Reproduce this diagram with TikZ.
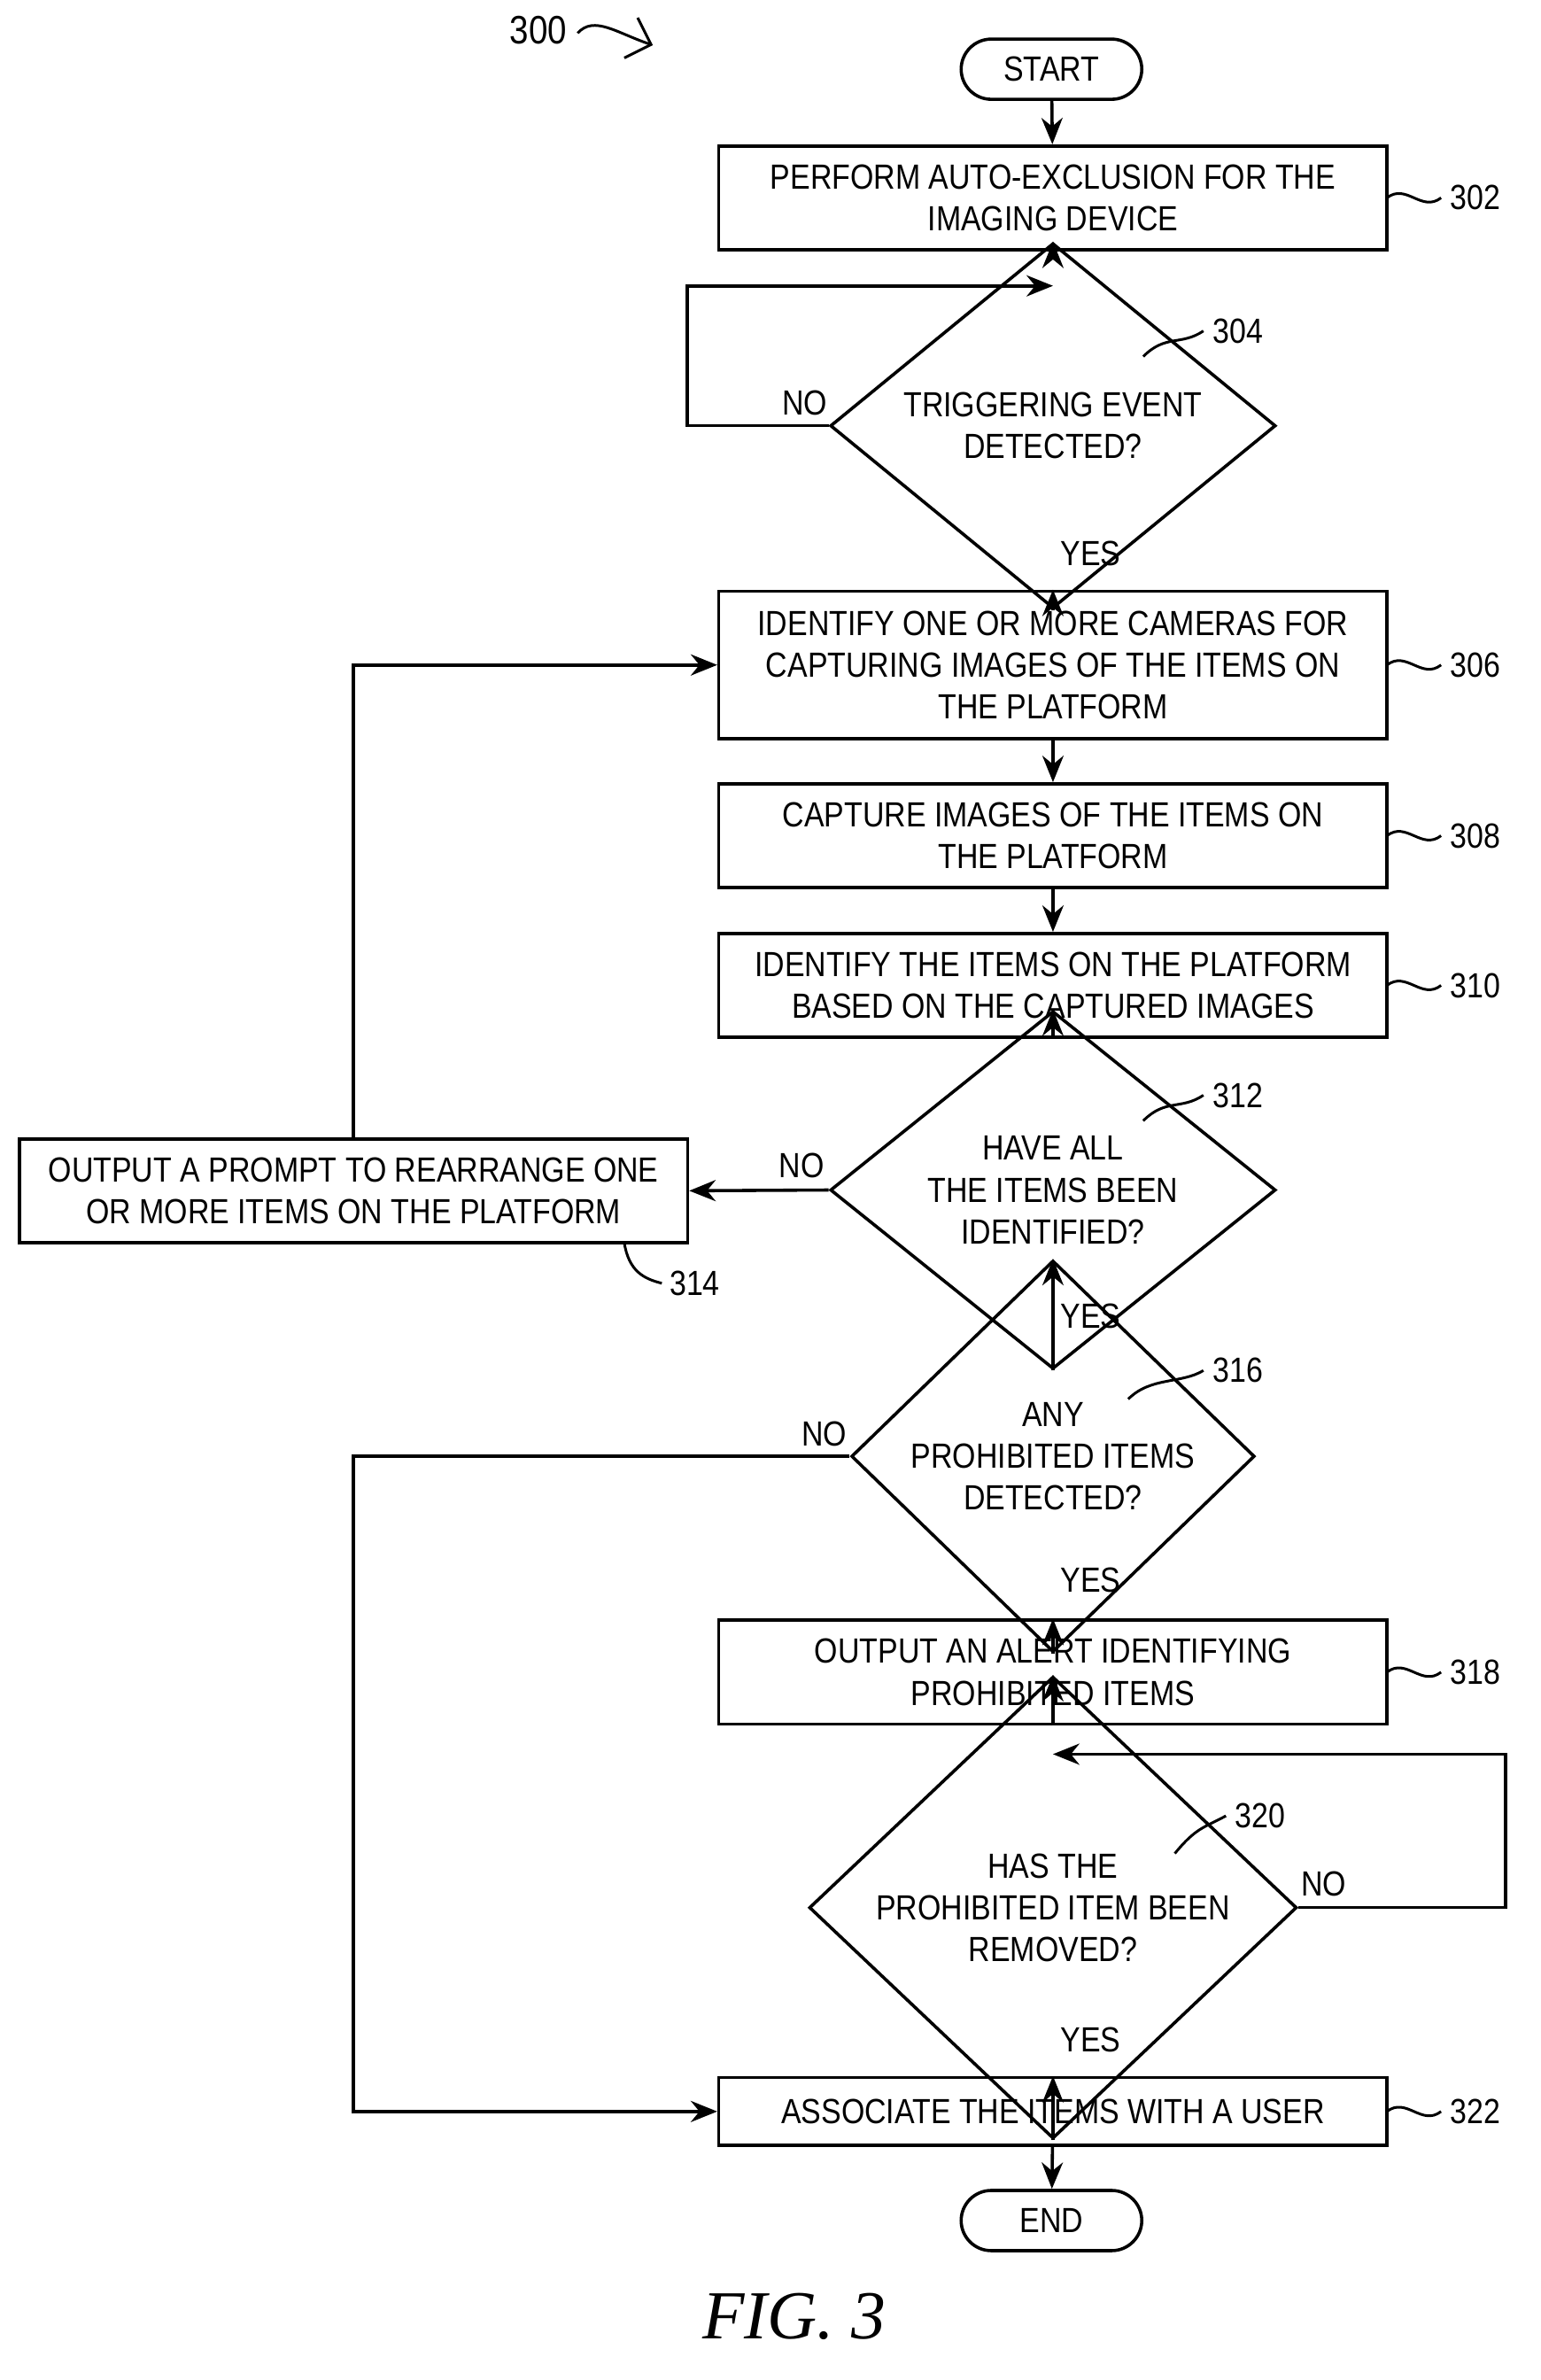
\documentclass[tikz,border=0pt]{standalone}
\usepackage{fontspec}
\setmainfont{Liberation Sans}[FakeStretch=0.86]
\newfontfamily\figfont{Liberation Serif}
\usetikzlibrary{shapes.geometric,arrows.meta}
\begin{document}
\begin{tikzpicture}[x=0.01cm,y=-0.01cm,
 every node/.style={font=\fontsize{6.6}{7.9}\selectfont},
 box/.style={draw,line width=0.6pt,minimum width=4.44cm,minimum height=0.69cm,align=center,inner sep=0},
 term/.style={draw,line width=0.6pt,rounded corners=0.2cm,minimum width=1.2cm,minimum height=0.4cm,inner sep=0},
 dia/.style={draw,line width=0.6pt,diamond,inner sep=0,align=center},
 ar/.style={line width=0.6pt,-{Stealth[length=5pt,width=4pt]}},
 ln/.style={line width=0.6pt},
 sq/.style={line width=0.5pt},
 lab/.style={anchor=west,inner sep=1pt}]
\useasboundingbox (0,0) rectangle (1024,1582);
\node[term] (start) at (699,46) {START};
\node[box] (b302) at (700,131.5) {PERFORM AUTO-EXCLUSION FOR THE\\IMAGING DEVICE};
\node[dia,minimum width=2.96cm,minimum height=1.4cm] (d304) at (700,283) {TRIGGERING EVENT\\DETECTED?};
\node[box,minimum height=0.98cm] (b306) at (700,442) {IDENTIFY ONE OR MORE CAMERAS FOR\\CAPTURING IMAGES OF THE ITEMS ON\\THE PLATFORM};
\node[box] (b308) at (700,555.5) {CAPTURE IMAGES OF THE ITEMS ON\\THE PLATFORM};
\node[box] (b310) at (700,655) {IDENTIFY THE ITEMS ON THE PLATFORM\\BASED ON THE CAPTURED IMAGES};
\node[dia,minimum width=2.96cm,minimum height=1.4cm] (d312) at (700,791) {HAVE ALL\\THE ITEMS BEEN\\IDENTIFIED?};
\node[box] (b314) at (235,791.5) {OUTPUT A PROMPT TO REARRANGE ONE\\OR MORE ITEMS ON THE PLATFORM};
\node[dia,minimum width=2.68cm,minimum height=1.3cm] (d316) at (700,968) {ANY\\PROHIBITED ITEMS\\DETECTED?};
\node[box] (b318) at (700,1111.5) {OUTPUT AN ALERT IDENTIFYING\\PROHIBITED ITEMS};
\node[dia,minimum width=3.24cm,minimum height=1.45cm] (d320) at (700,1268) {HAS THE\\PROHIBITED ITEM BEEN\\REMOVED?};
\node[box,minimum height=0.45cm] (b322) at (700,1403.5) {ASSOCIATE THE ITEMS WITH A USER};
\node[term] (end) at (699,1476) {END};
\node[font=\figfont\itshape\fontsize{13}{15}\selectfont] (fig) at (528,1540) {FIG. 3};
% connectors
\draw[ar] (start) -- (b302);
\draw[ar] (b302) -- (d304);
\coordinate (j304) at (700,190);
\draw[ar] (d304.west) -- (457,283) -- (457,190) -- (j304);
\draw[ar] (d304) -- (b306);
\draw[ar] (b306) -- (b308);
\draw[ar] (b308) -- (b310);
\draw[ar] (b310) -- (d312);
\draw[ar] (d312.west) -- (b314.east);
\draw[ar] (b314.north) -- (235,442) -- (b306.west);
\draw[ar] (d312) -- (d316);
\draw[ar] (d316) -- (b318);
\draw[ar] (d316.west) -- (235,968) -- (235,1403.5) -- (b322.west);
\draw[ar] (b318) -- (d320);
\coordinate (j320) at (700,1166);
\draw[ar] (d320.east) -- (1001,1268) -- (1001,1166) -- (j320);
\draw[ar] (d320) -- (b322);
\draw[ar] (b322) -- (end);
% yes/no
\node at (725,368) {YES}; \node at (725,875) {YES}; \node at (725,1050) {YES}; \node at (725,1356) {YES};
\node at (535,268) {NO}; \node at (533,775) {NO}; \node at (548,953) {NO}; \node at (880,1252) {NO};
% reference labels
\foreach \y/\t in {131.5/302,442/306,555.5/308,655/310,1111.5/318,1403.5/322}{
 \draw[sq] (922,\y) .. controls (935,\y-10) and (945,\y+10) .. (958,\y);
 \node[lab] at (960,\y) {\t};}
\draw[sq] (760,237) .. controls (775,222) and (785,230) .. (800,220); \node[lab] at (802,220) {304};
\draw[sq] (760,745) .. controls (775,730) and (785,738) .. (800,728); \node[lab] at (802,728) {312};
\draw[sq] (750,930) .. controls (765,915) and (785,920) .. (800,911); \node[lab] at (802,911) {316};
\draw[sq] (781,1232) .. controls (795,1215) and (800,1215) .. (815,1207); \node[lab] at (817,1207) {320};
\draw[sq] (415,826) .. controls (418,845) and (428,850) .. (440,853); \node[lab] at (441,853) {314};
\node[font=\fontsize{7.5}{9}\selectfont] (n300) at (358,20) {300};
\draw[sq,-{Straight Barb[length=4pt]}] (384,22) .. controls (395,10) and (410,22) .. (434,30);
\end{tikzpicture}
\end{document}
